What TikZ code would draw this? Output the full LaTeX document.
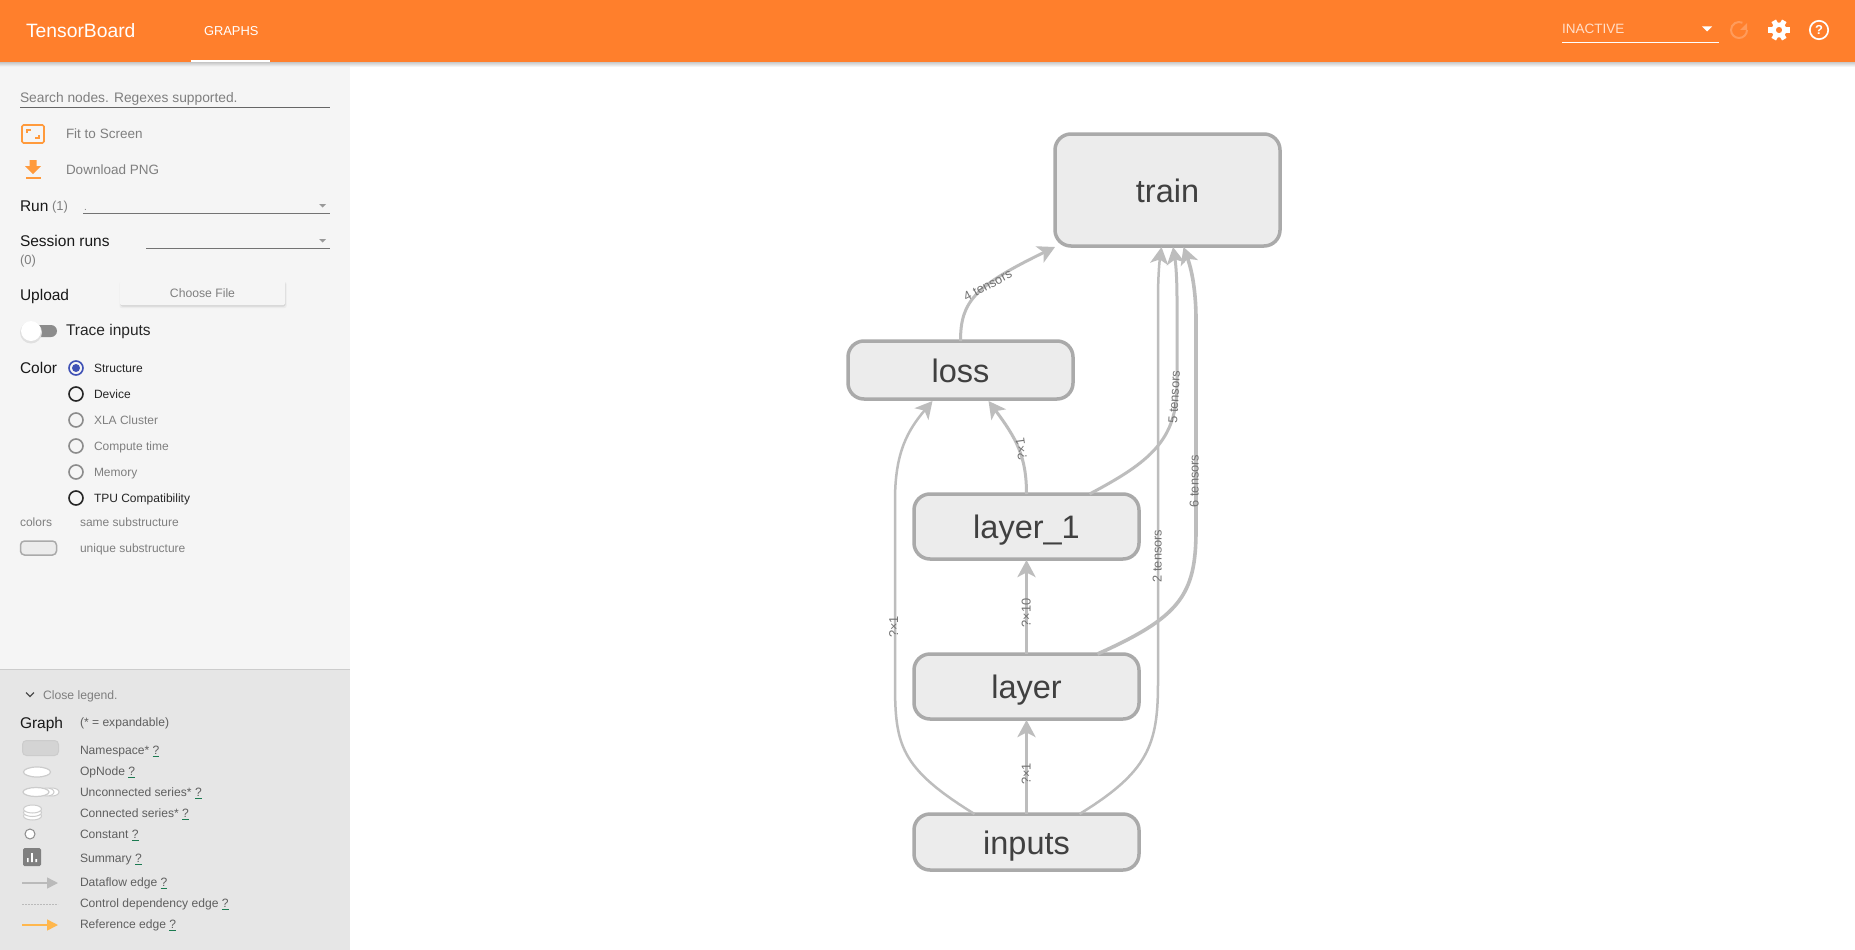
\documentclass[tikz,border=0pt]{standalone}
\usepackage{fontspec}
\setmainfont{Liberation Sans}
\usetikzlibrary{arrows.meta,calc,shapes.geometric}
\definecolor{hdr}{HTML}{FF7F2C}
\definecolor{side}{HTML}{F5F5F5}
\definecolor{legendbg}{HTML}{E6E6E6}
\definecolor{nodefill}{HTML}{ECECEC}
\definecolor{nodeline}{HTML}{AAAAAA}
\definecolor{edgec}{HTML}{BDBDBD}
\definecolor{tgray}{HTML}{7F7F7F}
\definecolor{tdark}{HTML}{5F5F5F}
\definecolor{iconorange}{HTML}{FF9A3C}
\definecolor{linkg}{HTML}{1B7A50}
\definecolor{refc}{HTML}{FFB74D}
\definecolor{radioblue}{HTML}{3F51B5}
\newcommand{\fsz}[1]{\fontsize{#1}{#1}\selectfont}
\newcommand{\qlink}{\textcolor{linkg}{\underline{\textcolor{tdark}{?}}}}
\tikzset{
  lbl/.style={anchor=west,inner sep=0,outer sep=0,text height=.72em,text depth=0pt,yshift=-1.2pt},
  mainlbl/.style={lbl,yshift=-1.2pt,font=\fsz{15.5},text=black!90},
  greylbl/.style={lbl,font=\fsz{13.5},text=tgray},
  radlbl/.style={lbl,font=\fsz{12},text=tgray},
  radlbld/.style={lbl,font=\fsz{12},text=black!85},
  leglbl/.style={lbl,font=\fsz{12.1},text=tdark},
  graphnode/.style={draw=nodeline,fill=nodefill,line width=3.5pt,rounded corners=16pt,
    minimum width=225pt,inner sep=0,outer sep=0,font=\fsz{32.5},text=black!75,text height=30pt,text depth=6pt},
  flow/.style={draw=edgec,line cap=butt,-{Stealth[length=17pt,width=18pt,inset=4.5pt]}},
  thin flow/.style={flow,line width=2.5pt},
  mid flow/.style={flow,line width=3pt},
  fat flow/.style={flow,line width=3.6pt},
  str flow/.style={flow,line width=3.2pt},
  edgelbl/.style={inner sep=0,font=\fsz{12.8},text=black!55,text height=.72em,text depth=0pt},
  radio/.style={circle,draw=#1,line width=1.6pt,fill=none,minimum size=14pt,inner sep=0},
}
\begin{document}
\begin{tikzpicture}[x=1pt,y=-1pt]
\useasboundingbox (0,0) rectangle (1855,950);
\fill[white] (0,0) rectangle (1855,950);
% sidebar
\fill[side] (0,62) rectangle (350,669);
\fill[legendbg] (0,669) rectangle (350,950);
\draw[black!20,line width=1pt] (0,669) -- (350,669);
% header
\shade[top color=black!35,bottom color=black!0,opacity=.6] (0,62) rectangle (1855,67);
\fill[hdr] (0,0) rectangle (1855,62);
\node[lbl,yshift=-2.5pt,font=\fsz{19.3},text=white] (tb) at (26,30) {TensorBoard};
\node[lbl,yshift=-1pt,font=\fsz{12.9},text=white] (gr) at (204,30) {GRAPHS};
\fill[white] (191,60) rectangle (270,62);
\node[lbl,font=\fsz{13.5},text=white!75!hdr] (inact) at (1562,29) {INACTIVE};
\draw[white,line width=1pt] (1562,42.5) -- (1719,42.5);
\fill[white] (1702,26.5) -- (1712,26.5) -- (1707,31.5) -- cycle;
% refresh
\draw[white!22!hdr,line width=2pt] (1747,30) arc (0:295:8);
\fill[white!22!hdr] (1747,23) -- (1747,30) -- (1740,30) -- cycle;
% gear
\foreach \a in {0,60,...,300}{\fill[white] (1779,30) ++(\a:6) ++(\a+90:2.6) -- ++(\a:4.6) -- ++(\a-90:5.2) -- ++(\a+180:4.6) -- cycle;}
\fill[white,even odd rule] (1779,30) circle (7.5) (1779,30) circle (3.2);
% help
\draw[white,line width=1.7pt] (1819,30) circle (9.2);
\node[inner sep=0,font=\fsz{13}\bfseries,text=white] (helpq) at (1819,30) {?};
% sidebar top
\node[lbl,font=\fsz{13.8},text=tgray] (search) at (20,98) {Search nodes. Regexes supported.};
\draw[black!60,line width=.8pt] (20,107.5) -- (330,107.5);
\draw[iconorange,line width=1.6pt,rounded corners=1.5pt] (22,125) rectangle (44,143);
\draw[iconorange,line width=1.5pt] (27,133) -- (27,130) -- (31,130) (39,135) -- (39,138) -- (35,138);
\node[greylbl] (fit) at (66,134) {Fit to Screen};
\fill[iconorange] (29.5,160) -- (36.5,160) -- (36.5,166) -- (41,166) -- (33,174) -- (25,166) -- (29.5,166) -- cycle;
\fill[iconorange] (25.5,176.5) rectangle (40.5,178.5);
\node[greylbl] (dl) at (66,170) {Download PNG};
\node[mainlbl] (run) at (20,205) {Run};
\node[lbl,font=\fsz{13},text=tgray] (runn) at (52,206) {(1)};
\node[lbl,font=\fsz{10},text=tgray] (dot) at (84,206) {.};
\draw[black!55,line width=.8pt] (83,213) -- (330,213);
\fill[black!40] (319,204) -- (326,204) -- (322.5,207.5) -- cycle;
\node[mainlbl] (sess) at (20,240) {Session runs};
\draw[black!55,line width=.8pt] (146,248) -- (330,248);
\fill[black!40] (319,239) -- (326,239) -- (322.5,242.5) -- cycle;
\node[lbl,font=\fsz{13},text=tgray] (sessn) at (20,260) {(0)};
\node[mainlbl] (upl) at (20,294) {Upload};
\fill[black!8,rounded corners=2pt] (119.5,282) rectangle (286.5,308);
\fill[black!16,rounded corners=2pt] (120.5,282) rectangle (285.5,306.5);
\fill[side,rounded corners=1.5pt] (120,281) rectangle (285,305);
\node[inner sep=0,font=\fsz{12.2},text=tgray] (cf) at (202.5,293) {Choose File};
\fill[black!45,rounded corners=6pt] (25,325) rectangle (57,337);
\fill[black!12] (31,332.5) circle (11);
\fill[white] (31,331) circle (10);
\node[lbl,font=\fsz{15.5},text=black!85] (ti) at (66,331) {Trace inputs};
% colour
\node[mainlbl] (col) at (20,367) {Color};
\node[radio=radioblue] (r1) at (76,368) {};
\fill[radioblue] (r1) circle (4);
\node[radio=black!85] (r2) at (76,394) {};
\node[radio=black!45] (r3) at (76,420) {};
\node[radio=black!45] (r4) at (76,446) {};
\node[radio=black!45] (r5) at (76,472) {};
\node[radio=black!85] (r6) at (76,498) {};
\node[radlbld] (l1) at (94,368) {Structure};
\node[radlbld] (l2) at (94,394) {Device};
\node[radlbl] (l3) at (94,420) {XLA Cluster};
\node[radlbl] (l4) at (94,446) {Compute time};
\node[radlbl] (l5) at (94,472) {Memory};
\node[radlbld] (l6) at (94,498) {TPU Compatibility};
\node[radlbl] (c1) at (20,522) {colors};
\node[radlbl] (c2) at (80,522) {same substructure};
\node[draw=nodeline,fill=nodefill,line width=1.5pt,rounded corners=4pt,minimum width=36pt,minimum height=14pt,inner sep=0] (cbox) at (38.5,548) {};
\node[radlbl] (c3) at (80,548) {unique substructure};
% legend
\draw[black!70,line width=1.4pt] (26,692.5) -- (30,696.5) -- (34,692.5);
\node[lbl,font=\fsz{12.2},text=tgray] (close) at (43,695) {Close legend.};
\node[mainlbl] (gt) at (20,722) {Graph};
\node[leglbl] (expd) at (80,722) {(* = expandable)};
\node[draw=black!20,fill=black!17,line width=1pt,rounded corners=4pt,minimum width=36pt,minimum height=15pt,inner sep=0] (lgns) at (40.5,748) {};
\node[leglbl] (t1) at (80,750) {Namespace* \qlink};
\node[ellipse,draw=black!20,fill=white,line width=1.2pt,minimum width=27pt,minimum height=10pt,inner sep=0] (lgop) at (37,772) {};
\node[leglbl] (t2) at (80,771) {OpNode \qlink};
\foreach \xx/\nm in {52/a,47/b}{\node[ellipse,draw=black!20,fill=white,line width=1pt,minimum width=14pt,minimum height=8pt,inner sep=0] (lgun\nm) at (\xx,792) {};}
\node[ellipse,draw=black!20,fill=white,line width=1.2pt,minimum width=26pt,minimum height=9pt,inner sep=0] (lgunc) at (36,792) {};
\node[leglbl] (t3) at (80,792) {Unconnected series* \qlink};
\foreach \yy/\nm in {816/a,812.5/b,809/c}{\node[ellipse,draw=black!20,fill=white,line width=1pt,minimum width=18pt,minimum height=8pt,inner sep=0] (lgcs\nm) at (32.5,\yy) {};}
\node[leglbl] (t4) at (80,813) {Connected series* \qlink};
\node[circle,draw=black!45,fill=white,line width=1pt,minimum size=10pt,inner sep=0] (lgcon) at (30,834) {};
\node[leglbl] (t5) at (80,834) {Constant \qlink};
\fill[black!50,rounded corners=1.5pt] (23,848) rectangle (41,866);
\fill[white] (27,858) rectangle (28.6,862) (31.2,853) rectangle (32.8,862) (35.4,859) rectangle (37,862);
\node[leglbl] (t6) at (80,858) {Summary \qlink};
\coordinate (df1) at (22,883); \coordinate (df2) at (58,883);
\draw[black!27,line width=1.5pt,-{Stealth[length=11pt,width=11pt,inset=0pt]}] (df1) -- (df2);
\node[leglbl] (t7) at (80,882) {Dataflow edge \qlink};
\coordinate (cd1) at (22,904); \coordinate (cd2) at (58,904);
\draw[black!27,line width=1pt,dash pattern=on 2pt off 1pt] (cd1) -- (cd2);
\node[leglbl] (t8) at (80,903) {Control dependency edge \qlink};
\coordinate (re1) at (22,925); \coordinate (re2) at (58,925);
\draw[refc,line width=1.5pt,-{Stealth[length=11pt,width=11pt,inset=0pt]}] (re1) -- (re2);
\node[leglbl] (t9) at (80,924) {Reference edge \qlink};
% graph nodes
\node[graphnode,minimum height=112pt] (train) at (1167.5,190) {train};
\node[graphnode,minimum height=58pt] (loss) at (960.5,370) {loss};
\node[graphnode,minimum height=65pt] (layer1) at (1026.5,526.5) {layer\_1};
\node[graphnode,minimum height=65pt] (layer) at (1026.5,686.5) {layer};
\node[graphnode,minimum height=56pt] (inputs) at (1026.5,842) {inputs};
% graph edges
\draw[mid flow] (loss.north) .. controls +(0,-40) and (975,286) .. ($(train.south west)+(0,1)$);
\draw[thin flow] ($(inputs.north)+(-52,0)$) .. controls (900,768) and (895,745) .. (895,683) -- (895,500) .. controls (895,452) and (908,430) .. ($(loss.south)+(-28,2)$);
\draw[mid flow] (layer1.north) .. controls +(0,-38) and (1016,438) .. ($(loss.south)+(28,2)$);
\draw[thin flow] ($(inputs.north)+(53,0)$) .. controls (1148,772) and (1158,745) .. (1158,683) -- (1158,300) .. controls (1158,280) and (1159,265) .. ($(train.south)+(-6,1)$);
\draw[mid flow] ($(layer1.north)+(63,0)$) .. controls (1150,462) and (1177,440) .. (1177,385) -- (1177,300) .. controls (1177,280) and (1176,265) .. ($(train.south)+(5.5,1)$);
\draw[fat flow] ($(layer.north)+(71,0)$) .. controls (1180,617) and (1196,595) .. (1196,530) -- (1196,320) .. controls (1196,285) and (1190,265) .. ($(train.south)+(16,1)$);
\draw[str flow] (layer.north) -- ($(layer1.south)+(0,1)$);
\draw[str flow] (inputs.north) -- ($(layer.south)+(0,1)$);
% edge labels
\node[edgelbl,rotate=28] (e1) at (988,286) {4 tensors};
\node[edgelbl,rotate=87] (e2) at (1175,397) {5 tensors};
\node[edgelbl,rotate=90] (e3) at (1195,481) {6 tensors};
\node[edgelbl,rotate=90] (e4) at (1158,556) {2 tensors};
\node[edgelbl,rotate=90] (e5) at (1027,613) {?×10};
\node[edgelbl,rotate=90] (e6) at (894.5,627) {?×1};
\node[edgelbl,rotate=98] (e7) at (1022,449) {?×1};
\node[edgelbl,rotate=90] (e8) at (1027,774) {?×1};
\end{tikzpicture}
\end{document}
